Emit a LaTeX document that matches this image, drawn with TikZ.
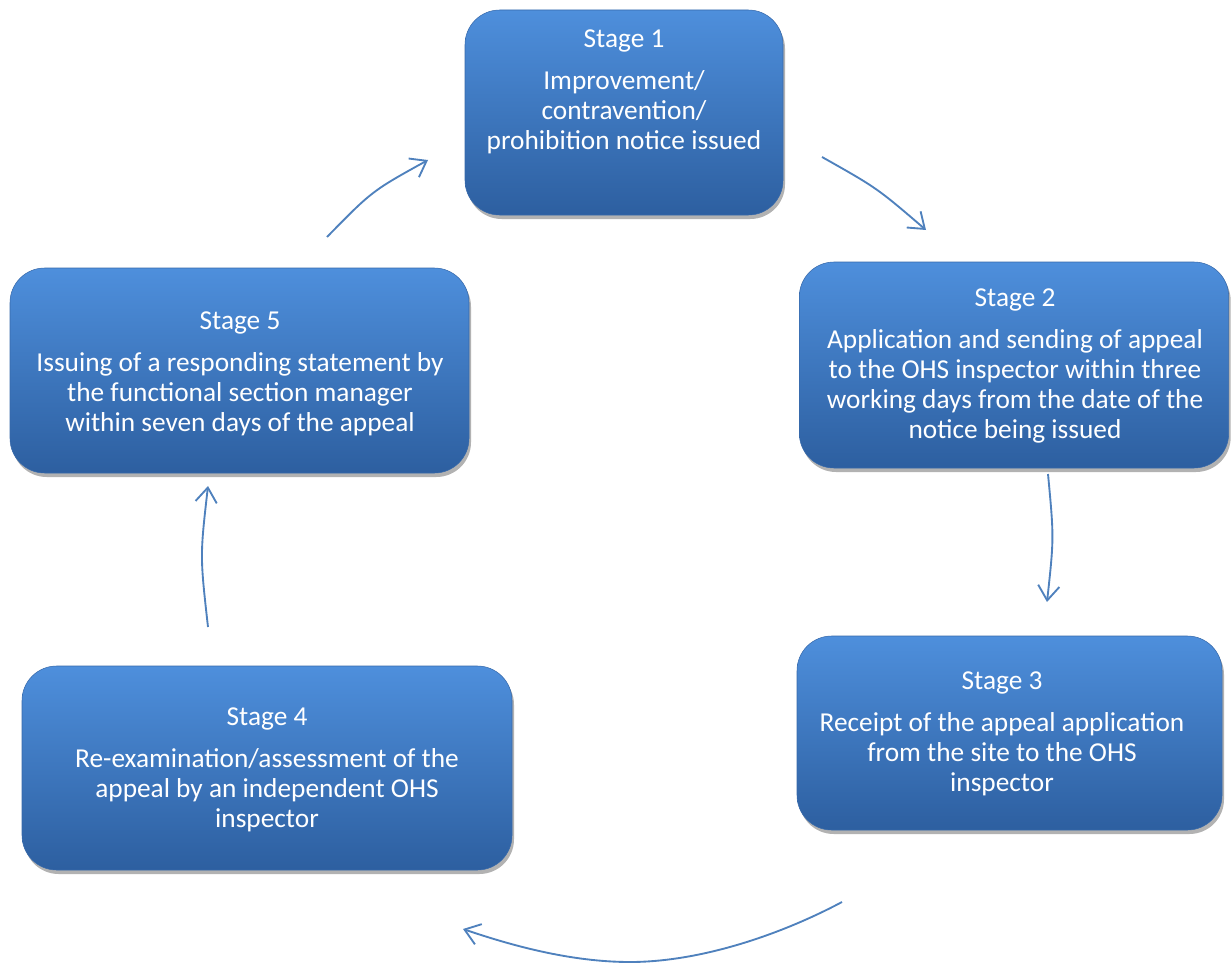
\documentclass[tikz,border=0pt]{standalone}
\usepackage{fontspec}
\setmainfont{Carlito}
\usetikzlibrary{arrows.meta,shadows}
\definecolor{boxtop}{RGB}{78,143,220}
\definecolor{boxbot}{RGB}{45,95,160}
\definecolor{boxedge}{RGB}{55,105,170}
\definecolor{arrowc}{RGB}{79,129,189}
\tikzset{
  stagebox/.style={rectangle, rounded corners=26pt, top color=boxtop, bottom color=boxbot,
    draw=boxedge, line width=0.4pt,
    drop shadow={shadow xshift=1.5pt, shadow yshift=-3pt, opacity=0.3, fill=black}},
  stagetext/.style={text=white, align=center, anchor=north, inner sep=0pt,
    font=\fontsize{20.5}{22.5}\selectfont},
  cyc/.style={draw=arrowc, line width=1.4pt, -{Straight Barb[length=11pt,width=16pt,line width=1.4pt]}}
}
\begin{document}
\begin{tikzpicture}[x=0.75pt,y=-0.75pt]
\useasboundingbox (0,0) rectangle (1231,963);
% boxes
\node[stagebox, minimum width=238.5pt, minimum height=153.75pt] (b1) at (624,112.5) {};
\node[stagebox, minimum width=322pt, minimum height=154.5pt] (b2) at (1014,365) {};
\node[stagebox, minimum width=318.75pt, minimum height=145.5pt] (b3) at (1009.5,733) {};
\node[stagebox, minimum width=367.5pt, minimum height=153pt] (b4) at (267,768) {};
\node[stagebox, minimum width=344.25pt, minimum height=153.75pt] (b5) at (239.5,370.5) {};
% texts
\node[stagetext] (t1) at (624,29) {Stage 1\\[9pt]Improvement/\\contravention/\\prohibition notice issued};
\node[stagetext] (t2) at (1015,288) {Stage 2\\[9pt]Application and sending of appeal\\to the OHS inspector within three\\working days from the date of the\\notice being issued};
\node[stagetext] (t3) at (1002,671) {Stage 3\\[9pt]Receipt of the appeal application\\from the site to the OHS\\inspector};
\node[stagetext] (t4) at (267,707) {Stage 4\\[9pt]Re-examination/assessment of the\\appeal by an independent OHS\\inspector};
\node[stagetext] (t5) at (240,311) {Stage 5\\[9pt]Issuing of a responding statement by\\the functional section manager\\within seven days of the appeal};
% arrow end points
\coordinate (a1s) at (327,237); \coordinate (a1e) at (428,160);
\coordinate (a2s) at (822,157); \coordinate (a2e) at (926,230);
\coordinate (a3s) at (1048,474); \coordinate (a3e) at (1047,602);
\coordinate (a4s) at (842,902); \coordinate (a4m) at (630,962); \coordinate (a4e) at (463,929);
\coordinate (a5s) at (208,627); \coordinate (a5e) at (208,486);
% arrows
\draw[cyc] (a1s) .. controls (372,191) .. (a1e);
\draw[cyc] (a2s) .. controls (877,188) .. (a2e);
\draw[cyc] (a3s) .. controls (1054,538) .. (a3e);
\draw[cyc] (a4s) .. controls (780,935) and (700,962) .. (a4m) .. controls (570,962) and (510,945) .. (a4e);
\draw[cyc] (a5s) .. controls (200,556) .. (a5e);
\end{tikzpicture}
\end{document}
